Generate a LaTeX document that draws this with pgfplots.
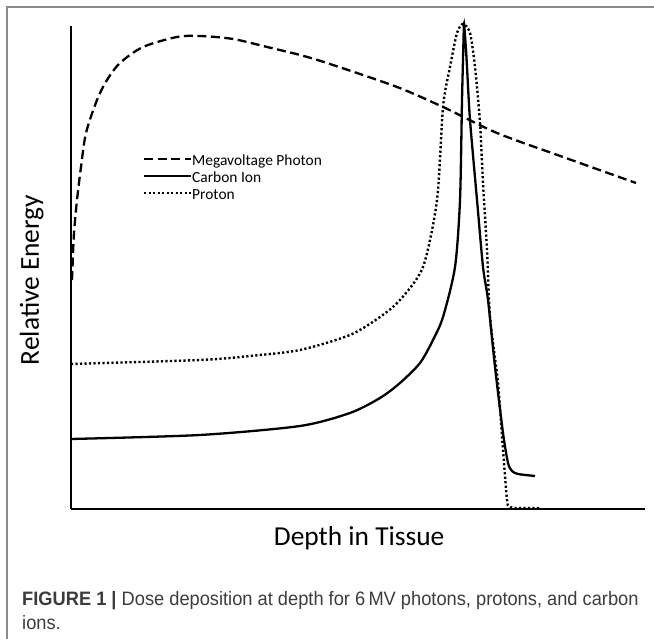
\documentclass[border=0pt]{standalone}
\usepackage{fontspec}
\setmainfont{Carlito}
\newfontfamily\capfont[FakeStretch=0.94]{Liberation Sans}
\usepackage{pgfplots}
\pgfplotsset{compat=1.18}
\definecolor{framegray}{HTML}{8A8A8A}
\definecolor{captext}{HTML}{3C3C3C}
\begin{document}
\begin{tikzpicture}[x=1bp,y=1bp]
\path[use as bounding box] (0,0) rectangle (654,639);
\draw[framegray, line width=1.6bp] (7,0) -- (7,632) -- (654,632);
\begin{axis}[
  at={(71bp,130bp)}, anchor=south west,
  scale only axis, width=574bp, height=483bp,
  xmin=0, xmax=574, ymin=0, ymax=483,
  axis lines*=left,
  axis line style={line width=2bp, black},
  xtick=\empty, ytick=\empty,
  clip=false,
  xlabel={Depth in Tissue},
  ylabel={Relative Energy},
  every axis x label/.style={at={(axis description cs:0.502,0)}, yshift=-37bp, anchor=base, inner sep=0pt, font=\fontsize{27.5}{30}\selectfont},
  every axis y label/.style={at={(axis description cs:0,0.474)}, xshift=-32bp, anchor=base, rotate=90, inner sep=0pt, font=\fontsize{27.5}{30}\selectfont},
  legend style={at={(axis cs:72,355)}, anchor=north west, draw=none, fill=none,
    inner sep=0pt, row sep=0pt, column sep=0pt,
    font=\fontsize{15.5}{17}\selectfont,
    nodes={inner sep=0pt, text height=11bp, text depth=6bp}},
  legend cell align=left,
  legend image code/.code={\draw[#1, line width=2bp] (0bp,4bp) -- (47bp,4bp);},
]
\addplot[black, line width=2.3bp, dash pattern=on 9bp off 4.5bp, smooth, tension=0.5] coordinates {
(1,229) (1.5,242) (3,276) (6,309) (10,342) (15,376) (26,409) (36,429) (49,446) (72,462) (106,472) (129,473) (162,470) (196,462) (229,454) (259,445) (326,422) (372,402) (426,376) (492,352) (565,326)
};
\addlegendentry{Megavoltage Photon}
\addplot[black, line width=2.3bp, smooth, tension=0.45] coordinates {
(0,70) (129,74) (229,83) (279,96) (309,111) (329,126) (349,146) (362,169) (372,192) (384,242) (389,309) (391,409) (392.5,469) (393,485) (395,459) (396,442) (399,389) (406,309) (412,242) (417,209) (424,142) (432,76) (437,46) (441,38) (447,35) (464,33)
};
\addlegendentry{Carbon Ion}
\addplot[black, line width=2.4bp, dash pattern=on 2.2bp off 2.3bp, smooth, tension=0.45] coordinates {
(0,145) (129,149) (179,153) (229,159) (279,174) (309,192) (329,209) (352,242) (366,309) (372,402) (379,442) (386,476) (392,485) (399,476) (404,442) (409,386) (412,326) (416,259) (419,192) (427,126) (432,59) (436,9) (438,3) (444,1) (469,1)
};
\addlegendentry{Proton}
\end{axis}
\node[anchor=base west, inner sep=0pt, text=captext, font=\capfont\fontsize{19.5}{24}\selectfont] at (22,33) {{\bfseries FIGURE 1 |} Dose deposition at depth for 6\,MV photons, protons, and carbon};
\node[anchor=base west, inner sep=0pt, text=captext, font=\capfont\fontsize{19.5}{24}\selectfont] at (22,9) {ions.};
\end{tikzpicture}
\end{document}
